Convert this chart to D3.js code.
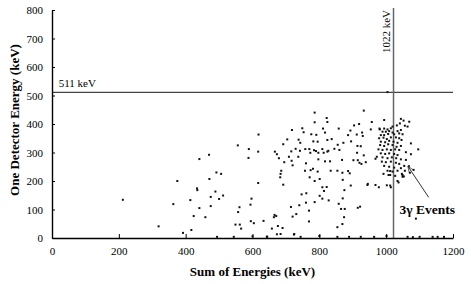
<!DOCTYPE html>
<html>
<head>
<meta charset="utf-8">
<script src="https://cdn.jsdelivr.net/npm/d3@7"></script>
<style>
  body { margin: 0; background: #fff; }
  text { font-family: "Liberation Serif", "Times New Roman", serif; }
</style>
</head>
<body>
<div id="chart"></div>
<script>
// [sum of energies, one detector energy] in keV
const lowPoints = [
  [212,134],[319,41],[375,200],[363,119],[392,18],[417,28],[414,133],[441,277],[424,77],[441,105],
  [434,174],[435,168],[618,363],[556,325],[589,312],[617,303],[588,281],[470,292],[492,230],[506,225],
  [471,207],[617,193],[489,163],[475,144],[512,149],[500,137],[597,138],[594,117],[475,112],[561,108],
  [557,91],[459,73],[595,59],[604,52],[633,60],[549,47],[562,47],[566,33],[600,6]
];

const midPoints = [
  [786,440],[822,421],[824,407],[786,406],[749,385],[718,379],[811,384],[858,384],[753,371],[776,364],
  [791,362],[817,370],[704,346],[738,345],[692,329],[743,334],[782,339],[795,338],[824,344],[837,347],
  [872,334],[855,327],[667,303],[673,294],[679,280],[716,304],[729,313],[742,306],[758,312],[770,312],
  [773,299],[784,308],[790,305],[797,299],[809,312],[813,299],[824,303],[827,306],[845,313],[860,309],
  [868,274],[695,266],[709,285],[717,271],[737,285],[720,255],[760,262],[797,276],[817,269],[832,269],
  [686,236],[684,225],[683,213],[757,236],[774,238],[781,243],[795,233],[834,236],[854,236],[771,213],
  [786,200],[801,207],[870,204],[692,187],[822,179],[809,178],[814,165],[875,168],[761,157],[747,153],
  [801,148],[809,138],[828,132],[786,126],[760,124],[740,115],[715,109],[858,120],[876,102],[769,96],
  [731,84],[720,75],[666,81],[664,73],[671,77],[769,58],[676,42],[658,33],[690,35],[869,49],
  [854,38],[673,13],[684,14],[725,14],[643,5],[800,7]
];

const nearPoints = [
  [933,447],[957,407],[919,400],[904,395],[994,414],[980,384],[893,377],[912,363],[928,370],[930,358],
  [954,381],[886,361],[895,339],[914,323],[924,322],[913,299],[933,290],[902,273],[915,273],[920,264],
  [939,266],[926,260],[886,235],[891,227],[968,278],[972,285],[869,229],[894,184],[944,186],[945,190],
  [968,186],[978,178],[992,225],[1007,221],[1012,235],[1002,185],[1012,184],[1014,178],[870,139],[865,102],
  [874,73],[915,106],[922,110],[1001,7],[1004,512]
];

// 3-gamma cluster around 1022 keV
const clusterPoints = [
  [1044,418],[1052,412],[1041,402],[1032,395],[1056,394],[1064,391],[1019,391],[1014,385],[1004,381],[994,384],
  [981,381],[989,373],[999,373],[1009,375],[1019,370],[1034,375],[1044,379],[984,361],[994,361],[1006,365],
  [1024,364],[1039,367],[1049,364],[979,350],[992,352],[1002,347],[1014,353],[1029,353],[1039,350],[1046,344],
  [984,338],[997,336],[1009,341],[1022,338],[1034,334],[1074,332],[982,326],[994,323],[1006,329],[1019,326],
  [1031,320],[1044,323],[977,311],[989,309],[1002,311],[1014,309],[1027,311],[1039,309],[1096,311],[1059,301],
  [984,297],[997,295],[1009,297],[1024,295],[1034,291],[1074,294],[989,283],[1004,280],[1017,283],[1030,280],
  [1044,276],[987,268],[999,266],[1014,268],[1029,264],[1039,260],[1059,274],[994,253],[1009,250],[1024,247],
  [1044,245],[1054,253],[1004,236],[1019,233],[1034,236],[1047,225],[1012,221],[1027,218],[1034,200],[1049,215],
  [1082,239],[1071,229],[1069,408],[1068,252],[1056,236],[1053,216],[1037,195],[1049,221],[1089,68]
];

// points sitting on the x axis
const axisPoints = [
  [494,4],[544,4],[644,4],[724,12],[744,4],[854,4],[889,4],[924,4],[964,4],[1064,4],
  [1080,3],[1100,4],[1139,4],[1154,4],[1173,4]
];

const xTicks = [0, 200, 400, 600, 800, 1000, 1200];
const yTicks = [0, 100, 200, 300, 400, 500, 600, 700, 800];
const annihilation = 511;
const sumPeak = 1022;

const margin = { top: 10, right: 18, bottom: 46, left: 52 };
const width = 471 - margin.left - margin.right;
const height = 284 - margin.top - margin.bottom;

const svg = d3.select("#chart").append("svg")
  .attr("width", 471)
  .attr("height", 284)
  .append("g")
  .attr("transform", `translate(${margin.left},${margin.top})`);

const x = d3.scaleLinear().domain([0, 1200]).range([0, width]);
const y = d3.scaleLinear().domain([0, 800]).range([height, 0]);

// reference lines
svg.append("line")
  .attr("x1", x(0)).attr("x2", x(1200))
  .attr("y1", y(annihilation)).attr("y2", y(annihilation))
  .attr("stroke", "#444").attr("stroke-width", 1.2);

svg.append("line")
  .attr("x1", x(sumPeak)).attr("x2", x(sumPeak))
  .attr("y1", y(800) - 2).attr("y2", y(0))
  .attr("stroke", "#666").attr("stroke-width", 1.5);

// points
const allPoints = [...lowPoints, ...midPoints, ...nearPoints, ...clusterPoints, ...axisPoints];
svg.selectAll("rect.pt")
  .data(allPoints)
  .enter()
  .append("rect")
  .attr("class", "pt")
  .attr("x", d => x(d[0]) - 1)
  .attr("y", d => y(d[1]) - 1)
  .attr("width", 2)
  .attr("height", 2)
  .attr("fill", "#111");

// axes
const xAxis = svg.append("g")
  .attr("transform", `translate(0,${height})`)
  .call(d3.axisBottom(x).tickValues(xTicks).tickFormat(d3.format("d"))
    .tickSizeInner(-4).tickSizeOuter(0).tickPadding(9));

const yAxis = svg.append("g")
  .call(d3.axisLeft(y).tickValues(yTicks).tickFormat(d3.format("d"))
    .tickSizeInner(-3).tickSizeOuter(0).tickPadding(9));

[xAxis, yAxis].forEach(g => {
  g.attr("font-family", "'Liberation Serif', serif").attr("font-size", 11);
  g.select(".domain").attr("stroke", "#000").attr("stroke-width", 1.4);
  g.selectAll(".tick line").attr("stroke", "#000").attr("stroke-width", 1);
  g.selectAll(".tick text").attr("fill", "#000");
});

// labels
svg.append("text")
  .attr("x", x(600))
  .attr("y", height + 38)
  .attr("text-anchor", "middle")
  .style("font-size", "13px")
  .style("font-weight", "bold")
  .text("Sum of Energies (keV)");

svg.append("text")
  .attr("transform", "rotate(-90)")
  .attr("x", -height / 2 + 4)
  .attr("y", -33)
  .attr("text-anchor", "middle")
  .style("font-size", "13px")
  .style("font-weight", "bold")
  .text("One Detector Energy (keV)");

svg.append("text")
  .attr("x", x(20))
  .attr("y", y(annihilation) - 5)
  .style("font-size", "11px")
  .text("511 keV");

svg.append("text")
  .attr("transform", "rotate(-90)")
  .attr("x", -y(800))
  .attr("y", x(sumPeak) - 4)
  .attr("text-anchor", "end")
  .style("font-size", "11px")
  .text("1022 keV");

svg.append("text")
  .attr("x", x(1040))
  .attr("y", y(85))
  .style("font-size", "13.5px")
  .style("font-weight", "bold")
  .text("3γ Events");

// arrow to the cluster
svg.append("defs").append("marker")
  .attr("id", "arrow")
  .attr("viewBox", "0 0 10 10")
  .attr("refX", 9).attr("refY", 5)
  .attr("markerWidth", 6).attr("markerHeight", 6)
  .attr("orient", "auto")
  .append("path")
  .attr("d", "M0,1 L10,5 L0,9")
  .attr("fill", "none")
  .attr("stroke", "#333")
  .attr("stroke-width", 1.2);

svg.append("line")
  .attr("x1", x(1127)).attr("y1", y(143))
  .attr("x2", x(1066)).attr("y2", y(250))
  .attr("stroke", "#333")
  .attr("stroke-width", 1)
  .attr("marker-end", "url(#arrow)");
</script>
</body>
</html>
